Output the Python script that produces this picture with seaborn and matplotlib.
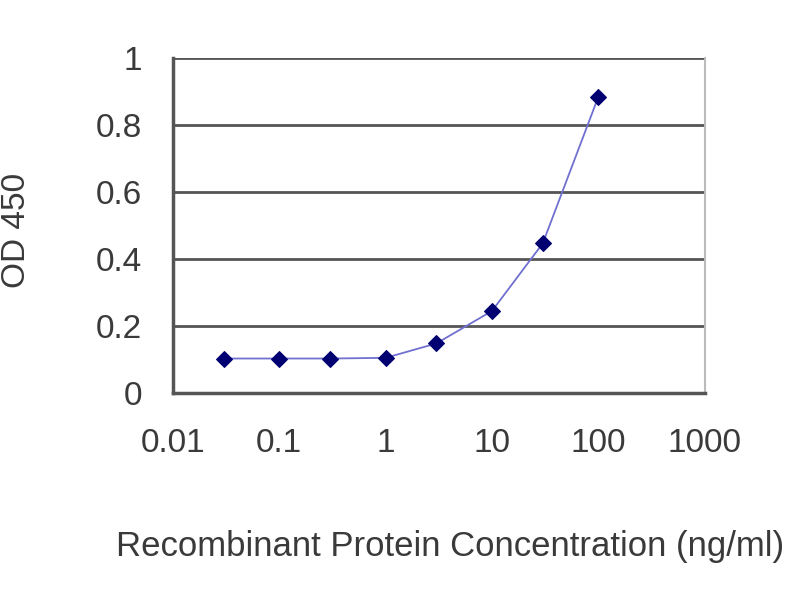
import numpy as np
import pandas as pd
import matplotlib
matplotlib.use("Agg")
import matplotlib.pyplot as plt
import seaborn as sns

conc = [0.03, 0.1, 0.3, 1, 3, 10, 30, 100]
od450 = [0.103, 0.103, 0.103, 0.105, 0.148, 0.245, 0.447, 0.885]
x_ticks = [0.01, 0.1, 1, 10, 100, 1000]
x_tick_labels = ["0.01", "0.1", "1", "10", "100", "1000"]
y_ticks = [0, 0.2, 0.4, 0.6, 0.8, 1]
y_tick_labels = ["0", "0.2", "0.4", "0.6", "0.8", "1"]

df = pd.DataFrame({"conc": conc, "od": od450})

sns.set_style("white")
plt.rcParams["font.family"] = ["Liberation Sans", "DejaVu Sans"]

fig = plt.figure(figsize=(8, 6), dpi=100)
ax = fig.add_axes([0.216, 0.345, 0.665, 0.558])

sns.lineplot(data=df, x="conc", y="od", ax=ax, color="#7070d0", linewidth=1.3,
             marker="D", markersize=8, markerfacecolor="#000070",
             markeredgecolor="#000070", zorder=3)

ax.set_xscale("log")
ax.set_xlim(0.01, 1000)
ax.set_ylim(0, 1)
ax.set_xticks(x_ticks)
ax.set_xticklabels(x_tick_labels)
ax.minorticks_off()
ax.set_yticks(y_ticks)
ax.set_yticklabels(y_tick_labels)

for y in y_ticks[1:]:
    ax.axhline(y, color="#555555", linewidth=2, zorder=1)

for side in ["left", "bottom"]:
    ax.spines[side].set_color("#555555")
    ax.spines[side].set_linewidth(2.5)
ax.spines["top"].set_visible(False)
ax.spines["right"].set_color("#bbbbbb")
ax.spines["right"].set_linewidth(1.5)

ax.tick_params(axis="x", direction="in", length=5, width=1.5, color="#555555",
               labelsize=24, pad=25, labelcolor="#3a3a3a")
ax.tick_params(axis="y", length=0, labelsize=24, pad=22, labelcolor="#3a3a3a")

ax.set_xlabel("Recombinant Protein Concentration (ng/ml)", fontsize=25,
              color="#3a3a3a")
ax.set_ylabel("OD 450", fontsize=24, color="#3a3a3a")
ax.xaxis.set_label_coords(0.522, -0.408)
ax.yaxis.set_label_coords(-0.265, 0.487)

fig.savefig("out.png", dpi=100)
